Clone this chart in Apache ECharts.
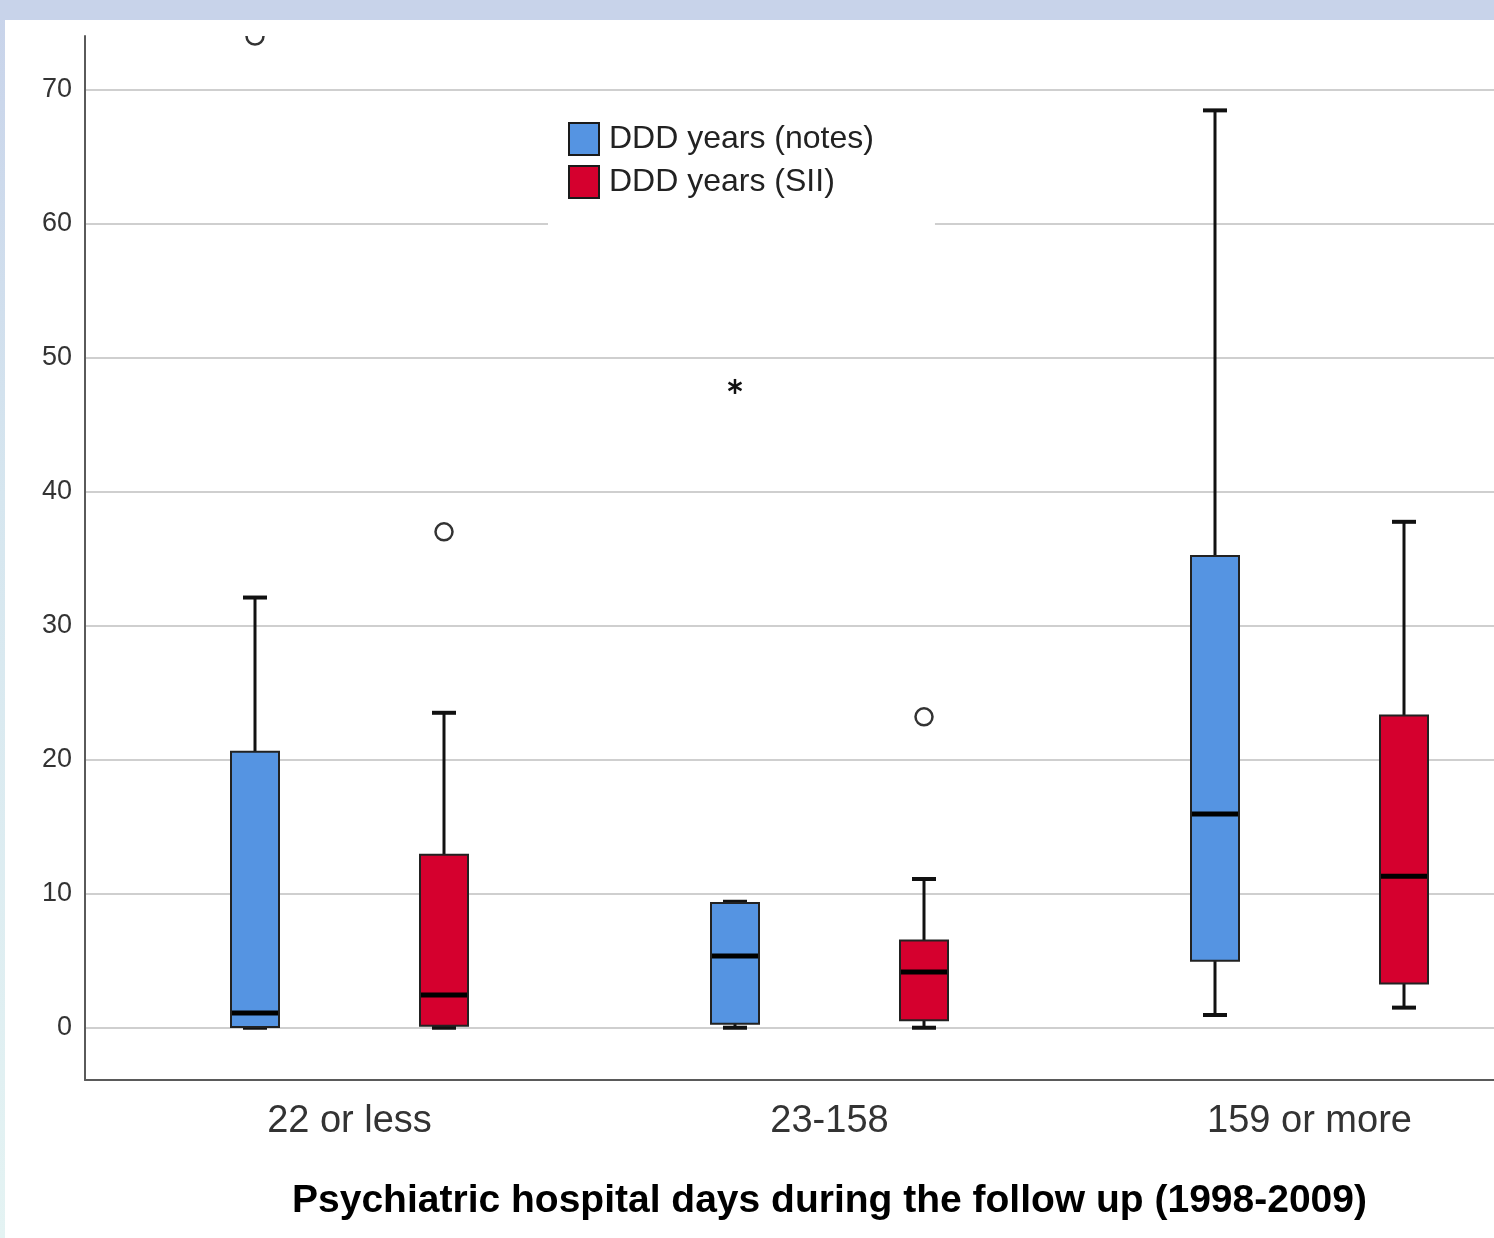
<!DOCTYPE html>
<html>
<head>
<meta charset="utf-8">
<script src="https://cdn.jsdelivr.net/npm/echarts@6/dist/echarts.min.js"></script>
<style>
  html, body { margin: 0; padding: 0; }
  body { width: 1494px; height: 1238px; position: relative; overflow: hidden;
         background: linear-gradient(to bottom, #c8d3ea 0%, #d6e6ef 40%, #e4f3f3 100%); }
  #topband { position: absolute; left: 0; top: 0; width: 1494px; height: 20px; background: #c8d3ea; }
  #panel { position: absolute; left: 5px; top: 20px; width: 1489px; height: 1218px; background: #ffffff; }
  #chart { position: absolute; left: 0; top: 0; width: 1494px; height: 1238px; }
</style>
</head>
<body>
<div id="topband"></div>
<div id="panel"></div>
<div id="chart"></div>
<script>
// ---- data ----
const categories = ['22 or less', '23-158', '159 or more'];
const seriesNames = ['DDD years (notes)', 'DDD years (SII)'];
// box statistics per category: [min, Q1, median, Q3, max]
const notesStats = [
  [0, 0.05, 1.1, 20.6, 32.1],
  [0, 0.3, 5.35, 9.3, 9.4],
  [0.95, 5.0, 15.95, 35.2, 68.45]
];
const siiStats = [
  [0, 0.15, 2.45, 12.9, 23.5],
  [0, 0.55, 4.15, 6.5, 11.1],
  [1.5, 3.3, 11.3, 23.3, 37.75]
];
// outliers: [categoryIndex, value]
const notesOutliers = [[0, 74.0], [1, 47.85]];
const notesOutlierMarks = ['circle', 'star'];
const siiOutliers = [[0, 37.0], [1, 23.2]];
const siiOutlierMarks = ['circle', 'circle'];
const yTickValues = [0, 10, 20, 30, 40, 50, 60, 70];
const xTitle = 'Psychiatric hospital days during the follow up (1998-2009)';

// ---- styles ----
const FONT = "'Liberation Sans', Arial, sans-serif";
const BLUE = '#5594e2';
const RED = '#d5002e';
const AXIS_MIN = -3.9, AXIS_MAX = 74;
const BOX_W = 48, CAP_HALF = 12, OFFSET = 94.5;

function boxRenderer(offset, fill) {
  return function (params, api) {
    const idx = api.value(0);
    const yOf = (d) => api.coord([idx, api.value(d)])[1];
    const x = api.coord([idx, 0])[0] + offset;
    const yMin = yOf(1), yQ1 = yOf(2), yMed = yOf(3), yQ3 = yOf(4), yMax = yOf(5);
    const wStyle = { stroke: '#111', lineWidth: 3 };
    const cStyle = { stroke: '#111', lineWidth: 4 };
    return {
      type: 'group',
      children: [
        { type: 'line', shape: { x1: x, y1: yQ3, x2: x, y2: yMax }, style: wStyle },
        { type: 'line', shape: { x1: x, y1: yQ1, x2: x, y2: yMin }, style: wStyle },
        { type: 'line', shape: { x1: x - CAP_HALF, y1: yMax, x2: x + CAP_HALF, y2: yMax }, style: cStyle },
        { type: 'line', shape: { x1: x - CAP_HALF, y1: yMin, x2: x + CAP_HALF, y2: yMin }, style: cStyle },
        { type: 'rect', shape: { x: x - BOX_W / 2, y: yQ3, width: BOX_W, height: yQ1 - yQ3 },
          style: { fill: fill, stroke: '#222', lineWidth: 2 } },
        { type: 'line', shape: { x1: x - BOX_W / 2 + 1, y1: yMed, x2: x + BOX_W / 2 - 1, y2: yMed },
          style: { stroke: '#000', lineWidth: 5 } }
      ]
    };
  };
}

function outlierRenderer(offset, marks) {
  return function (params, api) {
    const p = api.coord([api.value(0), api.value(1)]);
    const x = p[0] + offset, y = p[1];
    if (marks[params.dataIndex] === 'star') {
      const r = 7.5, children = [];
      for (let k = 0; k < 3; k++) {
        const a = Math.PI / 2 + k * Math.PI / 3;
        children.push({ type: 'line',
          shape: { x1: x - r * Math.cos(a), y1: y - r * Math.sin(a), x2: x + r * Math.cos(a), y2: y + r * Math.sin(a) },
          style: { stroke: '#111', lineWidth: 2.5 } });
      }
      return { type: 'group', children: children };
    }
    return { type: 'circle', shape: { cx: x, cy: y, r: 8.5 },
             style: { fill: 'none', stroke: '#333', lineWidth: 2.5 } };
  };
}

const withIndex = (stats) => stats.map((s, i) => [i].concat(s));

const chart = echarts.init(document.getElementById('chart'), null, { renderer: 'canvas' });
chart.setOption({
  backgroundColor: 'transparent',
  animation: false,
  textStyle: { fontFamily: FONT },
  grid: [
    { left: 85, top: 36, width: 1600, height: 1044, outerBoundsMode: 'none' },   // frame
    { left: 85, top: 90, width: 1600, height: 938, outerBoundsMode: 'none' },    // gridlines (0..70)
    { left: 109.5, top: 36, width: 1440, height: 1044, outerBoundsMode: 'none' } // data
  ],
  xAxis: [
    { gridIndex: 0, type: 'value', min: 0, max: 1,
      axisLine: { show: true, onZero: false, lineStyle: { color: '#5a5a5a', width: 2 } },
      axisTick: { show: false }, axisLabel: { show: false }, splitLine: { show: false } },
    { gridIndex: 1, type: 'value', min: 0, max: 1, show: false },
    { gridIndex: 2, type: 'category', data: categories,
      axisLine: { show: false, onZero: false }, axisTick: { show: false },
      axisLabel: { fontSize: 38, color: '#333', margin: 23, fontFamily: FONT },
      name: xTitle, nameLocation: 'middle', nameGap: 102,
      nameTextStyle: { fontSize: 39, fontWeight: 'bold', color: '#000', fontFamily: FONT } }
  ],
  yAxis: [
    { gridIndex: 0, type: 'value', min: AXIS_MIN, max: AXIS_MAX,
      axisLine: { show: true, onZero: false, lineStyle: { color: '#5a5a5a', width: 2 } },
      axisTick: { show: false }, axisLabel: { show: false }, splitLine: { show: false } },
    { gridIndex: 1, type: 'value', min: yTickValues[0], max: yTickValues[yTickValues.length - 1], interval: 10,
      axisLine: { show: false }, axisTick: { show: false },
      axisLabel: { fontSize: 27, color: '#333', margin: 13, fontFamily: FONT, padding: [12, 0, 0, 0] },
      splitLine: { show: true, lineStyle: { color: '#cfcfcf', width: 2 } } },
    { gridIndex: 2, type: 'value', min: AXIS_MIN, max: AXIS_MAX, show: false }
  ],
  legend: {
    data: seriesNames,
    orient: 'vertical',
    left: 548, top: 110,
    padding: [12, 61, 32, 20],
    backgroundColor: '#ffffff',
    icon: 'rect',
    itemWidth: 30, itemHeight: 32, itemGap: 9,
    itemStyle: { borderColor: '#1a1a1a', borderWidth: 2 },
    textStyle: { fontSize: 32, color: '#222', fontFamily: FONT, padding: [0, 0, 0, 5] },
    selectedMode: false
  },
  series: [
    { name: seriesNames[0], type: 'custom', xAxisIndex: 2, yAxisIndex: 2,
      itemStyle: { color: BLUE }, renderItem: boxRenderer(-OFFSET, BLUE),
      encode: { x: 0, y: [1, 2, 3, 4, 5] }, data: withIndex(notesStats), z: 3 },
    { name: seriesNames[1], type: 'custom', xAxisIndex: 2, yAxisIndex: 2,
      itemStyle: { color: RED }, renderItem: boxRenderer(OFFSET, RED),
      encode: { x: 0, y: [1, 2, 3, 4, 5] }, data: withIndex(siiStats), z: 3 },
    { name: 'notes outliers', type: 'custom', xAxisIndex: 2, yAxisIndex: 2, clip: true,
      renderItem: outlierRenderer(-OFFSET, notesOutlierMarks),
      encode: { x: 0, y: 1 }, data: notesOutliers, z: 3 },
    { name: 'SII outliers', type: 'custom', xAxisIndex: 2, yAxisIndex: 2, clip: true,
      renderItem: outlierRenderer(OFFSET, siiOutlierMarks),
      encode: { x: 0, y: 1 }, data: siiOutliers, z: 3 }
  ]
});
</script>
</body>
</html>
